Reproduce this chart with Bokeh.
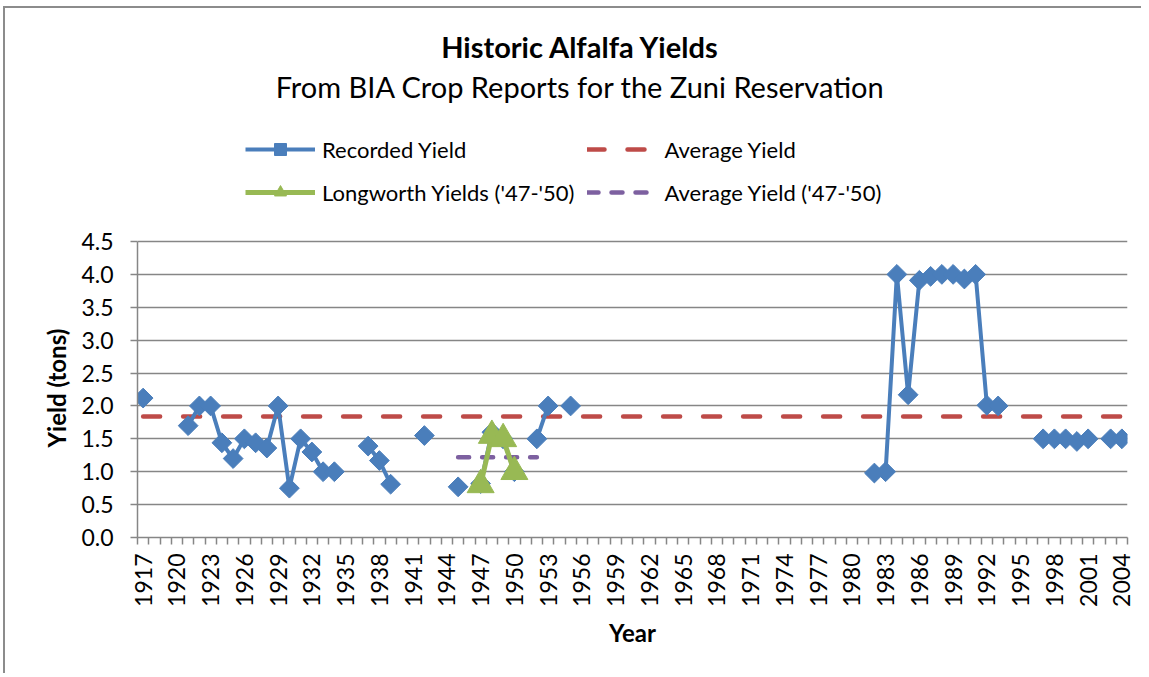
import math
from bokeh.plotting import figure
from bokeh.models import (Range1d, FixedTicker, PrintfTickFormatter, Label, Title,
                          Legend, LegendItem, ColumnDataSource)
from bokeh.embed import file_html
from bokeh.resources import INLINE

nan = float("nan")

# ---- data ----
years = list(range(1917, 2005))
recorded_yield = [
    2.12, nan, nan, nan, 1.70, 2.00, 2.00, 1.44, 1.20, 1.50,   # 1917-1926
    1.44, 1.36, 2.00, 0.75, 1.50, 1.30, 1.00, 1.00, nan, nan,  # 1927-1936
    1.39, 1.17, 0.81, nan, nan, 1.55, nan, nan, 0.77, nan,     # 1937-1946
    0.82, 1.60, 1.50, 1.00, nan, 1.50, 2.00, nan, 2.00, nan,   # 1947-1956
    nan, nan, nan, nan, nan, nan, nan, nan, nan, nan,          # 1957-1966
    nan, nan, nan, nan, nan, nan, nan, nan, nan, nan,          # 1967-1976
    nan, nan, nan, nan, nan, 0.98, 1.00, 4.00, 2.17, 3.91,     # 1977-1986
    3.97, 4.00, 4.00, 3.93, 4.00, 2.01, 2.00, nan, nan, nan,   # 1987-1996
    1.50, 1.50, 1.50, 1.46, 1.50, nan, 1.50, 1.50,             # 1997-2004
]
average_yield = 1.84

longworth_years = [1947, 1948, 1949, 1950]
longworth_yield = [0.80, 1.55, 1.50, 1.00]

avg_4750_years = [1945, 1946, 1947, 1948, 1949, 1950, 1951, 1952]
avg_4750_yield = 1.22

x_tick_years = list(range(1917, 2005, 3))
y_ticks = [0.0, 0.5, 1.0, 1.5, 2.0, 2.5, 3.0, 3.5, 4.0, 4.5]
y_max = 4.5

# ---- layout constants (pixels, page coordinates) ----
OX, OY = 5, 8                    # canvas origin on the page (after chart border)
W, H = 1143 - OX, 675 - OY
LEFT, RIGHT = 137, 1127          # plot area x extent (page)
PLOT_TOP, PLOT_BOTTOM = 241, 537  # page y of 4.5 and of 0.0
FRAME_H = PLOT_BOTTOM - OY       # frame reaches the top of the canvas
y_top = y_max * FRAME_H / (PLOT_BOTTOM - PLOT_TOP)

FONT = "Lato"
GRID = "#868686"
BLUE = "#4a7ebb"
RED = "#be4b48"
GREEN = "#98b954"
PURPLE = "#7d60a0"

p = figure(width=W, height=H, output_backend="svg", toolbar_location=None,
           x_range=Range1d(1916.5, 2004.5), y_range=Range1d(0, y_top),
           min_border_left=LEFT - OX, min_border_right=W + OX - RIGHT,
           min_border_top=0, min_border_bottom=H + OY - PLOT_BOTTOM)
p.styles = {"border-left": "2px solid #8c8c8c", "border-top": "2px solid #8c8c8c",
            "margin-left": "3px", "margin-top": "6px"}
p.outline_line_color = None
p.background_fill_color = "white"
p.border_fill_color = "white"

# grid
p.xgrid.grid_line_color = None
p.ygrid.grid_line_color = GRID
p.ygrid.grid_line_width = 1.5

# y axis
p.yaxis.ticker = FixedTicker(ticks=y_ticks)
p.yaxis.bounds = (0, y_max)
p.yaxis.formatter = PrintfTickFormatter(format="%.1f")
p.yaxis.axis_line_color = GRID
p.yaxis.axis_line_width = 1.5
p.yaxis.major_tick_line_color = GRID
p.yaxis.major_tick_line_width = 1.5
p.yaxis.major_tick_out = 7
p.yaxis.major_tick_in = 0
p.yaxis.minor_tick_line_color = None
p.yaxis.major_label_standoff = 17
p.yaxis.major_label_text_font = FONT
p.yaxis.major_label_text_font_size = "23px"
p.yaxis.major_label_text_color = "black"

# y axis title, centred on the 0-4.5 span
p.add_layout(Title(text="Yield (tons)", align="left", offset=90, standoff=16,
                   vertical_align="bottom", text_font=FONT, text_font_size="24px",
                   text_font_style="bold", text_color="black"), "left")

# x axis (categories every year, labels every third year)
boundaries = [y - 0.5 for y in years] + [years[-1] + 0.5]
p.xaxis.ticker = FixedTicker(ticks=x_tick_years, minor_ticks=boundaries)
p.xaxis.axis_line_color = GRID
p.xaxis.axis_line_width = 1.5
p.xaxis.major_tick_line_color = None
p.xaxis.major_tick_out = 7
p.xaxis.major_tick_in = 0
p.xaxis.minor_tick_line_color = GRID
p.xaxis.minor_tick_line_width = 1.5
p.xaxis.minor_tick_out = 7
p.xaxis.minor_tick_in = 0
p.xaxis.major_label_orientation = math.pi / 2
p.xaxis.major_label_standoff = 9
p.xaxis.major_label_text_font = FONT
p.xaxis.major_label_text_font_size = "23px"
p.xaxis.major_label_text_color = "black"
p.xaxis.axis_label = "Year"
p.xaxis.axis_label_text_font = FONT
p.xaxis.axis_label_text_font_size = "24px"
p.xaxis.axis_label_text_font_style = "bold"
p.xaxis.axis_label_text_color = "black"
p.xaxis.axis_label_standoff = 8

# series
r_avg = p.line(years, [average_yield] * len(years), line_color=RED, line_width=4.5,
               line_dash="17 23", line_cap="round")
r_avg47 = p.line(avg_4750_years, [avg_4750_yield] * len(avg_4750_years),
                 line_color=PURPLE, line_width=4.5, line_dash="11 13", line_cap="round")

src = ColumnDataSource(dict(x=years, y=recorded_yield))
r_rec_line = p.line("x", "y", source=src, line_color=BLUE, line_width=4)
r_rec_pts = p.scatter("x", "y", source=src, marker="square", angle=math.pi / 4,
                      size=14, fill_color=BLUE, line_color=BLUE)

r_lw_line = p.line(longworth_years, longworth_yield, line_color=GREEN, line_width=5)
r_lw_pts = p.scatter(longworth_years, longworth_yield, marker="triangle", size=27,
                     fill_color=GREEN, line_color=GREEN)

legend = Legend(items=[
    LegendItem(label="Recorded Yield", renderers=[r_rec_line, r_rec_pts]),
    LegendItem(label="Average Yield", renderers=[r_avg]),
    LegendItem(label="Longworth Yields ('47-'50)", renderers=[r_lw_line, r_lw_pts]),
    LegendItem(label="Average Yield ('47-'50)", renderers=[r_avg47]),
], location=(245 - LEFT, PLOT_BOTTOM - 207), orientation="horizontal", ncols=2)
legend.label_text_font = FONT
legend.label_text_font_size = "22px"
legend.label_text_color = "black"
legend.background_fill_alpha = 0
legend.border_line_color = None
legend.padding = 0
legend.margin = 0
legend.spacing = 13
legend.glyph_width = 70
legend.glyph_height = 30
legend.label_height = 30
legend.label_standoff = 7
p.add_layout(legend, "center")

# titles
p.add_layout(Label(x=580 - LEFT, y=PLOT_BOTTOM - 46, x_units="screen", y_units="screen",
                   text="Historic Alfalfa Yields", text_align="center",
                   text_baseline="middle", text_font=FONT, text_font_size="29px",
                   text_font_style="bold", text_color="black"))
p.add_layout(Label(x=580 - LEFT, y=PLOT_BOTTOM - 86, x_units="screen", y_units="screen",
                   text="From BIA Crop Reports for the Zuni Reservation",
                   text_align="center", text_baseline="middle", text_font=FONT,
                   text_font_size="29px", text_color="black"))

open("out.html", "w").write(file_html(p, INLINE))
